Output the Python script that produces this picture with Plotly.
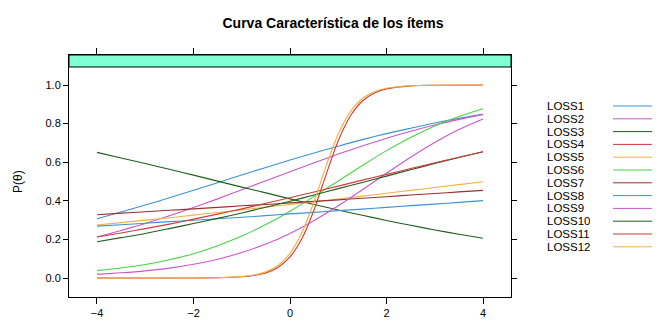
import plotly.graph_objects as go

# ability grid (theta)
theta = [-4, -3.5, -3, -2.5, -2, -1.5, -1, -0.5, 0, 0.5, 1, 1.5, 2, 2.5, 3, 3.5, 4]
theta_steep = [-4, -3, -2, -1.5, -1, -0.75, -0.5, -0.25, 0, 0.25, 0.5, 0.75, 1,
               1.25, 1.5, 1.75, 2, 2.5, 3, 4]

# P(theta)
loss1 = [0.307, 0.342, 0.378, 0.416, 0.455, 0.494, 0.534, 0.573, 0.611, 0.648,
         0.683, 0.717, 0.748, 0.776, 0.803, 0.827, 0.848]
loss2 = [0.212, 0.246, 0.282, 0.322, 0.365, 0.410, 0.457, 0.504, 0.551, 0.597,
         0.642, 0.684, 0.724, 0.760, 0.793, 0.822, 0.848]
loss3 = [0.651, 0.622, 0.593, 0.563, 0.533, 0.502, 0.471, 0.441, 0.410, 0.381,
         0.352, 0.325, 0.298, 0.273, 0.249, 0.227, 0.206]
loss4 = [0.0, 0.0, 0.0003, 0.0014, 0.0061, 0.0127, 0.0266, 0.0547, 0.109, 0.206,
         0.354, 0.537, 0.711, 0.839, 0.917, 0.959, 0.980, 0.9955, 0.999, 1.0]
loss5 = [0.275, 0.287, 0.300, 0.312, 0.326, 0.339, 0.353, 0.367, 0.381, 0.395,
         0.409, 0.424, 0.439, 0.454, 0.469, 0.484, 0.499]
loss6 = [0.038, 0.052, 0.070, 0.095, 0.126, 0.167, 0.217, 0.277, 0.346, 0.423,
         0.503, 0.583, 0.660, 0.728, 0.788, 0.837, 0.877]
loss7 = [0.328, 0.336, 0.343, 0.351, 0.358, 0.366, 0.374, 0.381, 0.389, 0.397,
         0.405, 0.413, 0.421, 0.430, 0.438, 0.446, 0.454]
loss8 = [0.269, 0.276, 0.284, 0.292, 0.299, 0.307, 0.315, 0.323, 0.332, 0.340,
         0.349, 0.357, 0.366, 0.375, 0.383, 0.392, 0.401]
loss9 = [0.019, 0.027, 0.037, 0.051, 0.071, 0.097, 0.132, 0.176, 0.231, 0.298,
         0.374, 0.457, 0.543, 0.626, 0.702, 0.769, 0.824]
loss10 = [0.188, 0.209, 0.231, 0.256, 0.282, 0.309, 0.337, 0.367, 0.398, 0.430,
          0.463, 0.495, 0.528, 0.561, 0.593, 0.624, 0.654]
loss11 = [0.212, 0.233, 0.256, 0.279, 0.305, 0.331, 0.358, 0.387, 0.416, 0.446,
          0.476, 0.507, 0.537, 0.567, 0.597, 0.626, 0.654]
loss12 = [0.0, 0.0, 0.0004, 0.0016, 0.0072, 0.0152, 0.0317, 0.0648, 0.128, 0.237,
          0.397, 0.582, 0.746, 0.862, 0.930, 0.965, 0.983, 0.996, 0.999, 1.0]

names = ["LOSS%d" % i for i in range(1, 13)]
values = [loss1, loss2, loss3, loss4, loss5, loss6, loss7, loss8, loss9, loss10, loss11, loss12]
xs = [theta, theta, theta, theta_steep, theta, theta, theta, theta, theta, theta, theta, theta_steep]

# lattice superpose colours (7, recycled)
pal = ["#3b93d4", "#cc55cc", "#1d5e1d", "#d03a3a", "#f2b040", "#44d444", "#9a3030"]

FONT = "Liberation Sans, Arial, Helvetica, sans-serif"
OFF = 8  # page body margin shifts the figure by 8px

fig = go.Figure()
for i, (nm, x, y) in enumerate(zip(names, xs, values)):
    fig.add_trace(go.Scatter(x=x, y=y, name=nm, mode="lines",
                             line=dict(color=pal[i % 7], width=1.1, shape="spline", smoothing=0.8),
                             showlegend=False))

# plot area in page pixels: x 69..511, y 55..297 (strip on top)
L, R, T, B = 69 - OFF, 511 - OFF, 55 - OFF, 297 - OFF
W, H = R - L, B - T

def px(xp):
    return (xp - OFF - L) / W

def py(yp):
    return (B - (yp - OFF)) / H

shapes = [dict(type="rect", xref="paper", yref="paper", x0=0, x1=1, y0=py(67), y1=1,
               fillcolor="#80ffd4", line=dict(color="black", width=1), layer="above")]
annotations = []
for i, nm in enumerate(names):
    yy = py(106 + 12.8 * i)
    annotations.append(dict(x=px(546), y=yy, xref="paper", yref="paper", text=nm,
                            showarrow=False, xanchor="left", yanchor="middle",
                            height=12, valign="middle", borderpad=0,
                            font=dict(size=11.5, color="black", family=FONT)))
    shapes.append(dict(type="line", xref="paper", yref="paper", x0=px(613), x1=px(653),
                       y0=yy, y1=yy, line=dict(color=pal[i % 7], width=1)))

annotations.append(dict(x=px(18), y=py(182), xref="paper", yref="paper", text="P(θ)",
                        showarrow=False, textangle=-90, xanchor="center", yanchor="middle",
                        font=dict(size=12, color="black", family=FONT)))

fig.update_layout(
    width=660, height=327,
    margin=dict(l=L, r=660 - R, t=T, b=327 - B),
    paper_bgcolor="white", plot_bgcolor="white",
    title=dict(text="<b>Curva Característica de los ítems</b>", x=(333 - OFF) / 660, xanchor="center",
               y=1 - (23 - OFF) / 327, yanchor="middle", yref="container",
               font=dict(size=14, color="black", family=FONT)),
    font=dict(family=FONT, size=11, color="black"),
    shapes=shapes, annotations=annotations,
)
fig.update_xaxes(range=[-4.58, 4.58], tickvals=[-4, -2, 0, 2, 4], ticktext=["−4", "−2", "0", "2", "4"],
                 showgrid=False, zeroline=False, showline=True, linecolor="black", linewidth=1,
                 mirror="ticks", ticks="outside", ticklen=6, tickcolor="black",
                 tickfont=dict(size=11))
fig.update_yaxes(range=[(278 - 297) / 193, (278 - 55) / 193], tickvals=[0, 0.2, 0.4, 0.6, 0.8, 1.0],
                 tickformat=".1f", showgrid=False, zeroline=False, showline=True, linecolor="black",
                 linewidth=1, mirror="ticks", ticks="outside", ticklen=5, tickcolor="black",
                 tickfont=dict(size=11))

fig.write_html("out.html")
